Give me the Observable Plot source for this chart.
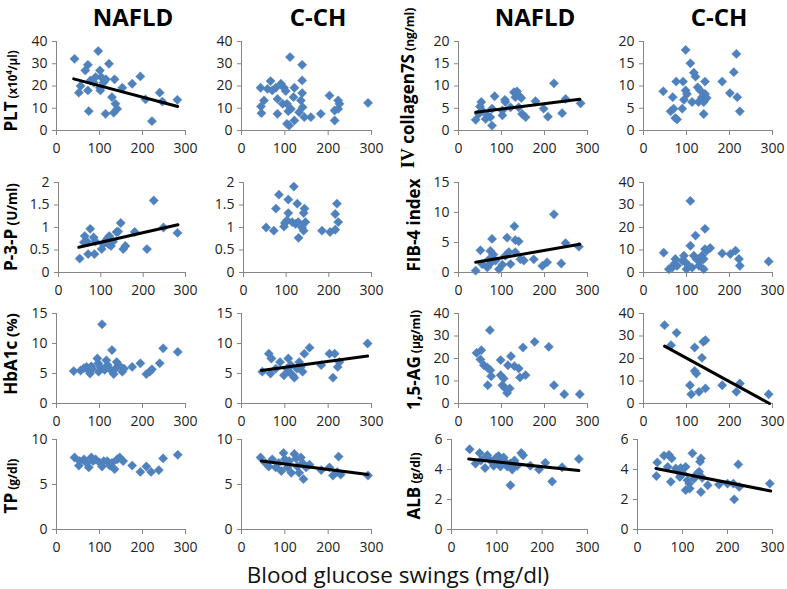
<!DOCTYPE html>
<html>
<head>
<meta charset="utf-8">
<script src="https://cdn.jsdelivr.net/npm/d3@7"></script>
<script src="https://cdn.jsdelivr.net/npm/@observablehq/plot@0.6"></script>
<style>
  html, body { margin: 0; padding: 0; background: #fff; }
  #chart { position: relative; width: 787px; height: 589px; overflow: hidden; background: #fff; }
</style>
</head>
<body>
<div id="chart"></div>
<script>
// ---------------- DATA ----------------
const columnTitles = ["NAFLD", "C-CH", "NAFLD", "C-CH"];
const xAxisTitle = "Blood glucose swings (mg/dl)";
const xTickValues = [0, 100, 200, 300];

// Row 1: PLT (x10^4/µl)
const pltNafldX = [42,97,73,67,122,101,195,176,135,115,91,79,56,52,73,102,101,110,153,129,137,141,133,114,75,207,240,222,246,281,87,104];
const pltNafldY = [32.2,35.7,29.5,27,30,27,24.3,21,23,23,24,22.5,20,17,18,18,19.2,21.7,19.2,15,12,9.7,8,7.5,8.7,14,17,4.2,13,13.8,21.5,24];
const pltNafldTrendX = [40, 282];
const pltNafldTrendY = [23.2, 10.8];
const pltCchX = [45,46,52,44,67,60,71,79,91,83,95,83,98,102,108,112,105,122,120,114,105,110,122,137,140,140,140,141,133,145,160,183,203,215,215,223,226,223,292];
const pltCchY = [10.8,7.8,13.5,19.2,22.2,18.7,18,19.2,21,14.2,12,7.5,19.2,17.7,8.7,33,12,19.2,15,9.7,3,2.2,4.5,13.5,16.8,22.5,29.5,10.5,8.2,6,6,7.5,15.7,9,4.5,13.5,12,9.7,12.4];

// Row 1: IV collagen 7S (ng/ml)
const col7sNafldX = [40,53,50,55,47,67,74,63,78,84,78,102,108,109,102,121,129,132,136,140,146,140,148,156,179,198,208,222,241,249,284];
const col7sNafldY = [2.4,6.4,5.4,4.5,3.7,3.4,3.0,2.6,1.1,7.7,4.9,3.4,6.9,6.4,4.5,5.2,8.6,7.5,8.8,7.9,7.3,5.2,3.7,3.0,6.6,4.9,3.1,10.6,3.9,7.1,6.1];
const col7sNafldTrendX = [40, 282];
const col7sNafldTrendY = [4.1, 7.0];
const col7sCchX = [46,63,70,68,76,74,78,90,94,98,92,98,101,109,113,117,121,126,128,132,136,140,140,143,143,147,183,201,210,216,218,224];
const col7sCchY = [8.8,4.3,4.9,7.5,11,2.8,2.5,4.9,6.9,18.1,11,9,8.2,15.1,6.4,13,12.1,9.7,6.4,9,7.5,6.4,3.7,11,8.2,7.3,11,8.4,13.1,17.2,7.5,4.3];

// Row 2: P-3-P (U/ml)
const p3pNafldX = [50,62,67,60,75,83,87,70,85,102,106,112,116,120,118,124,129,137,141,147,153,158,180,209,225,248,281];
const p3pNafldY = [0.31,0.81,0.69,0.67,0.97,0.78,0.69,0.41,0.41,0.52,0.63,0.71,0.76,0.81,0.63,0.59,0.69,0.90,0.91,1.1,0.52,0.59,0.9,0.52,1.6,1.0,0.88];
const p3pNafldTrendX = [48, 282];
const p3pNafldTrendY = [0.56, 1.06];
const p3pCchX = [53,71,76,83,105,105,97,95,102,114,118,122,126,128,129,137,141,141,143,145,184,203,215,215,219,222];
const p3pCchY = [1.0,0.93,1.42,1.73,1.62,1.32,1.1,1.02,1.16,1.12,1.91,1.08,1.53,1.12,0.77,1.0,0.93,1.32,1.42,1.12,0.93,0.9,0.95,1.3,1.53,1.12];

// Row 2: FIB-4 index
const fib4NafldX = [40,51,55,67,71,78,74,81,74,86,94,102,109,113,117,121,130,132,140,132,144,152,175,195,206,222,239,249,280];
const fib4NafldY = [0.3,3.7,1.4,0.84,2.2,5.6,3.6,3.0,1.5,2.0,0.56,1.3,2.8,5.8,3.4,1.4,7.7,5.4,5.2,3.4,2.2,2.0,2.2,1.1,1.7,9.7,1.5,4.9,4.3];
const fib4NafldTrendX = [40, 282];
const fib4NafldTrendY = [1.7, 4.7];
const fib4CchX = [47,59,67,71,74,78,90,94,98,100,105,109,109,113,117,121,123,129,132,136,140,140,143,143,147,155,183,202,214,222,224,291];
const fib4CchY = [8.8,1.5,2.2,3.7,6,3,5.2,7.5,4.5,1.5,3,31.8,11.9,2.2,7.5,16.4,6,3,4.9,7.5,1.5,6,19.4,10.4,9.7,10.9,8.5,8.2,9.7,6,3,4.9];

// Row 3: HbA1c (%)
const hba1cNafldX = [40,56,64,70,75,81,78,83,95,97,98,106,102,112,116,119,126,129,133,137,140,145,153,157,176,195,209,217,222,240,248,282];
const hba1cNafldY = [5.4,5.5,5.9,6.1,5.5,6.2,5.0,5.8,7.5,6.7,5.3,13.2,6.1,5.6,7.2,6.4,5.6,8.9,4.9,5.8,6.9,6.4,5.3,5.8,6.1,6.7,4.9,5.3,5.7,6.7,9.2,8.6];
const hba1cCchX = [48,63,69,67,79,89,98,105,108,110,114,118,122,128,133,137,141,145,157,184,203,211,215,222,226,291];
const hba1cCchY = [5.3,8.3,7.5,5,5.8,6.9,4.7,5.8,7.5,5.3,6.4,4.7,4.3,5.8,6.9,6.1,5.3,8.3,9.3,6.4,8.3,4.3,8.3,6.1,6.9,10];
const hba1cCchTrendX = [46, 291];
const hba1cCchTrendY = [5.5, 7.9];

// Row 3: 1,5-AG (µg/ml)
const ag15NafldX = [42,53,51,59,67,74,73,76,68,98,98,102,105,109,113,119,115,122,130,140,143,150,156,177,210,222,246,282];
const ag15NafldY = [22.5,23.7,19.6,17,16,14.8,32.6,12.1,8.1,19.3,12.6,8.1,11.1,6.7,4.7,6.7,17,21,16.6,15.6,11.6,24.9,12.6,27.4,25.2,8.1,4.1,4.1];
const ag15CchX = [49,64,77,108,111,119,119,123,129,136,139,144,144,183,216,224,291];
const ag15CchY = [34.8,25.9,31.4,8.1,4.1,24.9,14.5,13.3,5.2,20.3,27.4,28.1,6.7,8.1,5.2,8.9,4.1];
const ag15CchTrendX = [49, 293];
const ag15CchTrendY = [25.5, 0];

// Row 4: TP (g/dl)
const tpNafldX = [42,54,52,64,70,75,81,85,91,101,106,110,118,124,129,135,141,147,155,176,195,209,220,238,248,282];
const tpNafldY = [8.0,7.6,7.1,7.8,7.4,6.9,8.0,7.6,7.8,7.4,7.0,7.6,7.6,7.1,7.4,6.7,7.8,8.0,7.6,7.1,6.4,7.0,6.4,6.6,7.9,8.3];
const tpCchX = [44,55,63,71,79,86,92,97,100,106,110,115,122,126,129,133,137,141,143,149,157,184,203,211,221,224,229,292];
const tpCchY = [8.0,7.4,7.0,7.8,6.9,7.4,6.5,8.5,7.8,6.9,7.6,6.3,8.4,7.9,7.0,6.3,8.0,7.4,5.6,6.9,7.2,6.6,6.9,6.0,6.4,8.1,6.1,6.0];
const tpCchTrendX = [46, 292];
const tpCchTrendY = [7.6, 6.1];

// Row 4: ALB (g/dl)
const albNafldX = [40,53,62,65,75,74,79,86,93,99,102,104,108,112,115,119,123,130,134,130,139,145,154,158,174,193,207,222,244,281];
const albNafldY = [5.35,4.4,5.1,4.6,4.8,4.1,4.95,4.6,4.25,4.8,4.5,4.9,4.2,4.6,4.8,4.5,4.2,4.4,4.0,2.95,4.6,4.25,5.1,4.95,4.25,4.0,4.45,3.2,4.15,4.7];
const albNafldTrendX = [38, 281];
const albNafldTrendY = [4.7, 3.93];
const albCchX = [44,42,59,70,76,67,74,85,91,96,94,101,107,111,107,116,115,122,126,133,137,141,139,141,144,156,181,200,213,215,224,226,294];
const albCchY = [4.47,3.56,4.92,4.97,4.74,4.18,3.18,4.07,3.85,4.1,3.5,3.74,4.18,3.29,2.62,2.73,3.06,5.08,3.4,3.74,3.85,4.74,4.52,2.5,3.45,2.95,3.0,3.06,3.06,2.01,4.34,2.84,3.06];
const albCchTrendX = [41, 296];
const albCchTrendY = [4.07, 2.57];

// y-axis ticks per measure
const pltTicks = [0,10,20,30,40];
const col7sTicks = [0,5,10,15,20];
const p3pTicks = [0,0.5,1,1.5,2];
const fib4NafldTicks = [0,5,10,15];
const fib4CchTicks = [0,10,20,30,40];
const hba1cTicks = [0,5,10,15];
const ag15Ticks = [0,10,20,30,40];
const tpTicks = [0,5,10];
const albTicks = [0,2,4,6];

// ---------------- LAYOUT ----------------
const FONT = "'Open Sans', 'Liberation Sans', 'DejaVu Sans', sans-serif";
const rowTop = [41, 182, 313, 439];
const rowBottom = [130, 272, 403, 529];
const frameLeft = [
  [56, 241, 458, 643],
  [58, 243, 458, 643],
  [56, 241, 458, 643],
  [56, 241, 451, 637]
];
const frameRight = [185, 371, 587, 772];

const panels = [
  {r:0,c:0, xs:pltNafldX, ys:pltNafldY, ticks:pltTicks, tx:pltNafldTrendX, ty:pltNafldTrendY},
  {r:0,c:1, xs:pltCchX, ys:pltCchY, ticks:pltTicks},
  {r:0,c:2, xs:col7sNafldX, ys:col7sNafldY, ticks:col7sTicks, tx:col7sNafldTrendX, ty:col7sNafldTrendY},
  {r:0,c:3, xs:col7sCchX, ys:col7sCchY, ticks:col7sTicks},
  {r:1,c:0, xs:p3pNafldX, ys:p3pNafldY, ticks:p3pTicks, tx:p3pNafldTrendX, ty:p3pNafldTrendY},
  {r:1,c:1, xs:p3pCchX, ys:p3pCchY, ticks:p3pTicks},
  {r:1,c:2, xs:fib4NafldX, ys:fib4NafldY, ticks:fib4NafldTicks, tx:fib4NafldTrendX, ty:fib4NafldTrendY},
  {r:1,c:3, xs:fib4CchX, ys:fib4CchY, ticks:fib4CchTicks},
  {r:2,c:0, xs:hba1cNafldX, ys:hba1cNafldY, ticks:hba1cTicks},
  {r:2,c:1, xs:hba1cCchX, ys:hba1cCchY, ticks:hba1cTicks, tx:hba1cCchTrendX, ty:hba1cCchTrendY},
  {r:2,c:2, xs:ag15NafldX, ys:ag15NafldY, ticks:ag15Ticks},
  {r:2,c:3, xs:ag15CchX, ys:ag15CchY, ticks:ag15Ticks, tx:ag15CchTrendX, ty:ag15CchTrendY},
  {r:3,c:0, xs:tpNafldX, ys:tpNafldY, ticks:tpTicks},
  {r:3,c:1, xs:tpCchX, ys:tpCchY, ticks:tpTicks, tx:tpCchTrendX, ty:tpCchTrendY},
  {r:3,c:2, xs:albNafldX, ys:albNafldY, ticks:albTicks, tx:albNafldTrendX, ty:albNafldTrendY},
  {r:3,c:3, xs:albCchX, ys:albCchY, ticks:albTicks, tx:albCchTrendX, ty:albCchTrendY}
];

const chart = document.getElementById("chart");
const mL = 45, mR = 10, mT = 10, mB = 30;
const AXIS = "#868686";

for (const p of panels) {
  const x0 = frameLeft[p.r][p.c], x1 = frameRight[p.c];
  const top = rowTop[p.r], bottom = rowBottom[p.r];
  const yDomain = [p.ticks[0], p.ticks[p.ticks.length - 1]];
  const pts = p.xs.map((x, i) => ({x, y: p.ys[i]}));
  const marks = [
    Plot.ruleY([yDomain[0]], {stroke: AXIS, strokeWidth: 1}),
    Plot.ruleX([0], {stroke: AXIS, strokeWidth: 1}),
    Plot.axisX({ticks: xTickValues, tickSize: 5, tickPadding: 8, stroke: AXIS, fill: "#222", label: null, tickFormat: d => String(d)}),
    Plot.axisY({ticks: p.ticks, tickSize: 4, tickPadding: 5, stroke: AXIS, fill: "#222", label: null, tickFormat: d => String(d)}),
    Plot.dot(pts, {x: "x", y: "y", symbol: "diamond2", r: 4.2, fill: "#4F81BD", stroke: "#4F81BD", strokeWidth: 0.4})
  ];
  if (p.tx) {
    const tr = p.tx.map((x, i) => ({x, y: p.ty[i]}));
    marks.push(Plot.line(tr, {x: "x", y: "y", stroke: "#000", strokeWidth: 3}));
  }
  const svg = Plot.plot({
    width: (x1 - x0) + mL + mR,
    height: (bottom - top) + mT + mB,
    marginLeft: mL, marginRight: mR, marginTop: mT, marginBottom: mB,
    x: {domain: [0, 300]},
    y: {domain: yDomain},
    style: {
      position: "absolute",
      left: (x0 - mL) + "px",
      top: (top - mT) + "px",
      background: "transparent",
      overflow: "visible",
      fontFamily: FONT,
      fontSize: "14px",
      color: "#222",
      maxWidth: "none"
    },
    marks
  });
  chart.appendChild(svg);
}

// ---------------- TEXT OVERLAY (titles, axis labels) ----------------
const overlay = d3.create("svg")
  .attr("width", 787).attr("height", 589)
  .style("position", "absolute").style("left", "0px").style("top", "0px")
  .style("pointer-events", "none")
  .attr("font-family", FONT);

const titleX = [133, 318, 535, 719];
columnTitles.forEach((t, i) => {
  overlay.append("text")
    .attr("x", titleX[i]).attr("y", 26)
    .attr("text-anchor", "middle")
    .attr("font-size", 24).attr("font-weight", "bold").attr("fill", "#000")
    .text(t);
});

overlay.append("text")
  .attr("x", 398).attr("y", 583)
  .attr("text-anchor", "middle")
  .attr("font-size", 22.5).attr("fill", "#111")
  .text(xAxisTitle);

const yLabels = [
  {x: 17, y: 91, parts: [["PLT", 17], [" (x10", 11.5], ["4", 8, "super"], ["/μl)", 11.5]]},
  {x: 17, y: 227, parts: [["P-3-P", 17], [" (U/ml)", 13.5]]},
  {x: 17, y: 354, parts: [["HbA1c", 17], [" (%)", 15]]},
  {x: 17, y: 486, parts: [["TP", 17], [" (g/dl)", 12]]},
  {x: 414, y: 88, parts: [["IV", 18, "serif"], [" collagen7S", 17], [" (ng/ml)", 12]]},
  {x: 420, y: 225, parts: [["FIB-4 index", 17]]},
  {x: 420, y: 360, parts: [["1,5-AG", 17], [" (μg/ml)", 12]]},
  {x: 420, y: 486, parts: [["ALB", 17], [" (g/dl)", 12]]}
];
for (const lab of yLabels) {
  const t = overlay.append("text")
    .attr("transform", `translate(${lab.x},${lab.y}) rotate(-90)`)
    .attr("text-anchor", "middle")
    .attr("font-weight", "bold")
    .attr("fill", "#000");
  for (const [s, size, opt] of lab.parts) {
    const ts = t.append("tspan").attr("font-size", size).text(s);
    if (opt === "super") ts.attr("baseline-shift", "super");
    if (opt === "serif") ts.attr("font-family", "'Liberation Serif', 'DejaVu Serif', serif");
  }
}

chart.appendChild(overlay.node());
</script>
</body>
</html>
